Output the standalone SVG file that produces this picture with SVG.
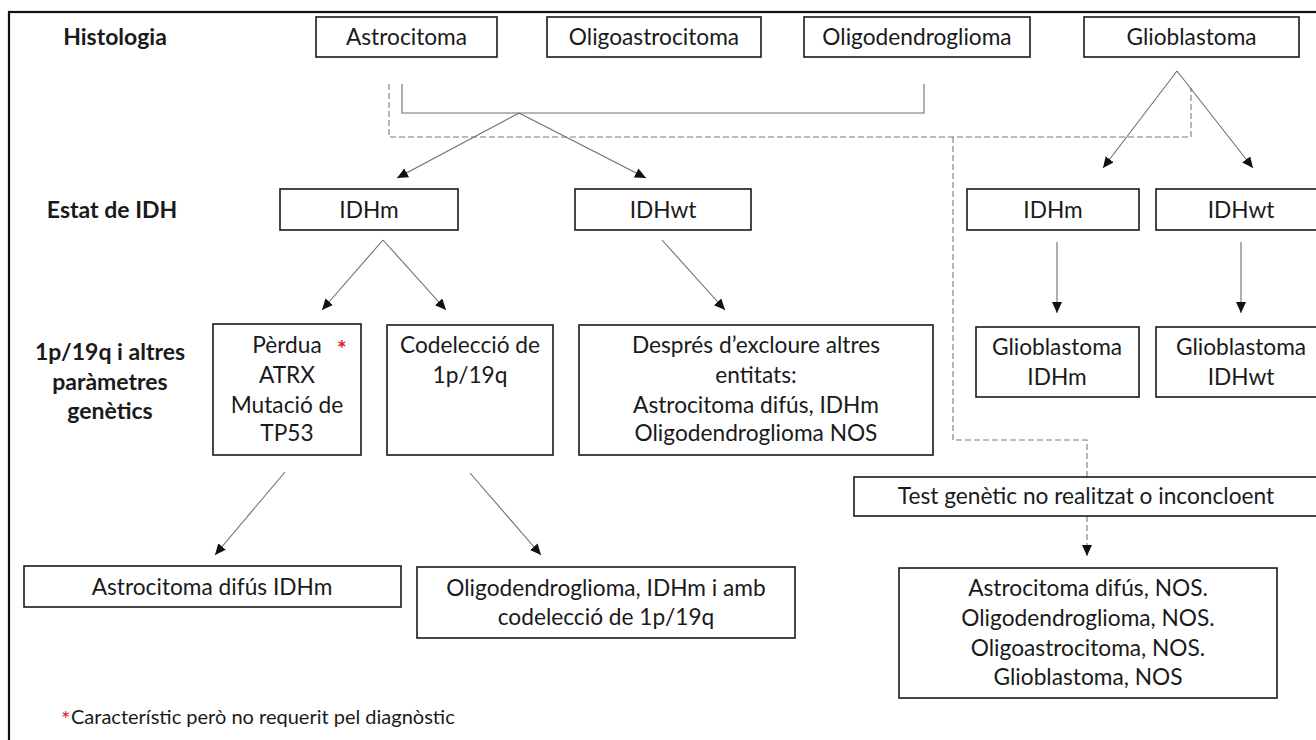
<svg xmlns="http://www.w3.org/2000/svg" width="1316" height="740" viewBox="0 0 1316 740">
<style>
.box{fill:#fff;stroke:#1a1a1a;stroke-width:1.6}
.t{font-family:Lato,"Liberation Sans",sans-serif;font-size:22.7px;fill:#1a1a1a;text-anchor:middle}
.h{font-family:Lato,"Liberation Sans",sans-serif;font-size:23px;font-weight:bold;fill:#1a1a1a;text-anchor:middle}
.c{fill:none;stroke:#6e6e6e;stroke-width:1.1}
.d{fill:none;stroke:#7a7a7a;stroke-width:1.1;stroke-dasharray:6,3}
.red{fill:#e02020}
</style>
<defs>
<marker id="ah" markerUnits="userSpaceOnUse" markerWidth="12" markerHeight="10" viewBox="0 0 12 10" refX="11" refY="5" orient="auto">
<path d="M0,0 L11,5 L0,10 Z" fill="#111"/>
</marker>
</defs>
<rect x="9" y="12" width="1320" height="740" fill="none" stroke="#111" stroke-width="2.2"/>

<g id="connectors">
<path class="c" d="M402,84 V113 H924 V84"/>
<path class="d" d="M389,84 V137 H1191 V88"/>
<path class="d" d="M953,137 V440 H1087 V477"/>
<path class="d" d="M1087,516 V556" marker-end="url(#ah)"/>
<line class="c" x1="519" y1="113" x2="397" y2="178" marker-end="url(#ah)"/>
<line class="c" x1="519" y1="113" x2="646" y2="178" marker-end="url(#ah)"/>
<line class="c" x1="1177" y1="71" x2="1103" y2="168" marker-end="url(#ah)"/>
<line class="c" x1="1177" y1="71" x2="1253" y2="168" marker-end="url(#ah)"/>
<line class="c" x1="383" y1="240" x2="322" y2="310" marker-end="url(#ah)"/>
<line class="c" x1="383" y1="240" x2="446" y2="310" marker-end="url(#ah)"/>
<line class="c" x1="662" y1="240" x2="725" y2="310" marker-end="url(#ah)"/>
<line class="c" x1="1057" y1="242" x2="1057" y2="313" marker-end="url(#ah)"/>
<line class="c" x1="1241" y1="242" x2="1241" y2="313" marker-end="url(#ah)"/>
<line class="c" x1="285" y1="472" x2="215" y2="555" marker-end="url(#ah)"/>
<line class="c" x1="470" y1="473" x2="541" y2="555" marker-end="url(#ah)"/>
</g>

<g id="label-histologia"><text class="h" x="115" y="45">Histologia</text></g>
<g id="label-idh"><text class="h" x="112" y="218">Estat de IDH</text></g>
<g id="label-genetic">
<text class="h" x="110" y="360">1p/19q i altres</text>
<text class="h" x="110" y="390">paràmetres</text>
<text class="h" x="110" y="419">genètics</text>
</g>

<g id="n-astrocitoma"><rect class="box" x="316" y="17" width="181" height="40"/><text class="t" x="406.5" y="45">Astrocitoma</text></g>
<g id="n-oligoastrocitoma"><rect class="box" x="547" y="17" width="214" height="40"/><text class="t" x="654" y="45">Oligoastrocitoma</text></g>
<g id="n-oligodendroglioma"><rect class="box" x="804" y="17" width="226" height="40"/><text class="t" x="917" y="45">Oligodendroglioma</text></g>
<g id="n-glioblastoma"><rect class="box" x="1084" y="17" width="215" height="40"/><text class="t" x="1191.5" y="45">Glioblastoma</text></g>

<g id="n-idhm"><rect class="box" x="280" y="189" width="178" height="41"/><text class="t" x="369" y="218">IDHm</text></g>
<g id="n-idhwt"><rect class="box" x="575" y="189" width="176" height="41"/><text class="t" x="663" y="218">IDHwt</text></g>
<g id="n-idhm-gbm"><rect class="box" x="967" y="189" width="172" height="41"/><text class="t" x="1053" y="218">IDHm</text></g>
<g id="n-idhwt-gbm"><rect class="box" x="1156" y="189" width="172" height="41"/><text class="t" x="1241" y="218">IDHwt</text></g>

<g id="n-perdua"><rect class="box" x="213" y="324" width="148" height="131"/>
<text class="t" x="287" y="353">Pèrdua</text>
<text x="342" y="357" font-family="Lato,'Liberation Sans',sans-serif" font-size="23" font-weight="bold" class="red" text-anchor="middle">*</text>
<text class="t" x="287" y="383">ATRX</text>
<text class="t" x="287" y="413">Mutació de</text>
<text class="t" x="287" y="441">TP53</text>
</g>
<g id="n-codelecio"><rect class="box" x="387" y="325" width="166" height="130"/>
<text class="t" x="470" y="353">Codelecció de</text>
<text class="t" x="470" y="383">1p/19q</text>
</g>
<g id="n-despres"><rect class="box" x="579" y="325" width="354" height="130"/>
<text class="t" x="756" y="353">Després d’excloure altres</text>
<text class="t" x="756" y="383">entitats:</text>
<text class="t" x="756" y="413">Astrocitoma difús, IDHm</text>
<text class="t" x="756" y="441">Oligodendroglioma NOS</text>
</g>
<g id="n-gbm-idhm"><rect class="box" x="976" y="327" width="163" height="70"/>
<text class="t" x="1057" y="355">Glioblastoma</text>
<text class="t" x="1057" y="385">IDHm</text>
</g>
<g id="n-gbm-idhwt"><rect class="box" x="1156" y="327" width="172" height="70"/>
<text class="t" x="1241" y="355">Glioblastoma</text>
<text class="t" x="1241" y="385">IDHwt</text>
</g>

<g id="n-test"><rect class="box" x="854" y="477" width="470" height="39"/>
<text class="t" x="1086" y="504">Test genètic no realitzat o inconcloent</text>
</g>
<g id="n-astro-difus"><rect class="box" x="24" y="566" width="377" height="41"/>
<text class="t" x="212" y="595">Astrocitoma difús IDHm</text>
</g>
<g id="n-oligo-codel"><rect class="box" x="417" y="567" width="378" height="71"/>
<text class="t" x="606" y="596">Oligodendroglioma, IDHm i amb</text>
<text class="t" x="606" y="625">codelecció de 1p/19q</text>
</g>
<g id="n-nos"><rect class="box" x="899" y="568" width="378" height="130"/>
<text class="t" x="1088" y="596">Astrocitoma difús, NOS.</text>
<text class="t" x="1088" y="626">Oligodendroglioma, NOS.</text>
<text class="t" x="1088" y="656">Oligoastrocitoma, NOS.</text>
<text class="t" x="1088" y="685">Glioblastoma, NOS</text>
</g>

<g id="footnote">
<text x="61" y="727" font-family="Lato,'Liberation Sans',sans-serif" font-size="22" class="red">*</text>
<text x="71" y="724" font-family="Lato,'Liberation Sans',sans-serif" font-size="20" fill="#1a1a1a">Característic però no requerit pel diagnòstic</text>
</g>
</svg>
